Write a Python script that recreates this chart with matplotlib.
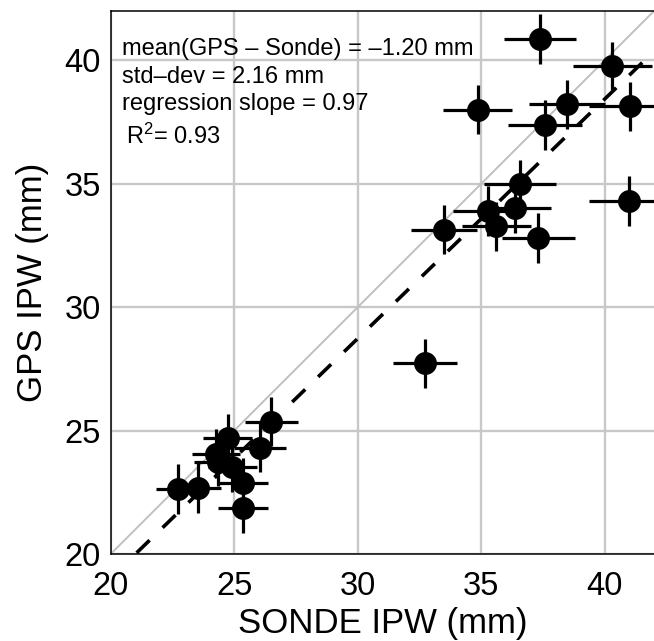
import matplotlib
matplotlib.use("Agg")
import matplotlib.pyplot as plt
import numpy as np

plt.rcParams["font.family"] = ["Liberation Sans", "DejaVu Sans"]
plt.rcParams["mathtext.fontset"] = "custom"
plt.rcParams["mathtext.rm"] = "Liberation Sans"
plt.rcParams["mathtext.it"] = "Liberation Sans:italic"

# radiosonde vs GPS integrated precipitable water (mm)
sonde_ipw = [37.39, 40.31, 34.86, 38.48, 37.59, 41.01, 36.58, 36.39, 35.27, 35.61,
             33.51, 37.32, 40.98, 32.73, 26.51, 26.04, 24.73, 24.26, 24.35, 24.93,
             25.34, 25.34, 22.73, 23.54]
gps_ipw = [40.87, 39.79, 38.00, 38.22, 37.38, 38.14, 34.98, 34.02, 33.90, 33.27,
           33.14, 32.80, 34.31, 27.72, 25.36, 24.31, 24.69, 24.07, 23.74, 23.52,
           22.89, 21.86, 22.63, 22.67]
sonde_err = [1.47, 1.60, 1.39, 1.54, 1.50, 1.64, 1.46, 1.45, 1.41, 1.40,
             1.34, 1.49, 1.63, 1.30, 1.06, 1.04, 0.99, 0.97, 0.97, 1.00,
             1.01, 1.01, 0.91, 0.94]
gps_err = [1.0, 0.97, 0.99, 1.0, 1.0, 1.0, 1.0, 1.0, 1.0, 1.0,
           1.0, 1.0, 1.0, 1.0, 1.0, 1.0, 1.0, 1.0, 1.0, 1.0,
           1.0, 1.0, 1.0, 1.0]

reg_slope = 0.97
reg_intercept = -0.37
stats_lines = ["mean(GPS \u2013 Sonde) = \u20131.20 mm",
               "std\u2013dev = 2.16 mm",
               "regression slope = 0.97"]
r2_text = r"R$^\mathrm{2}$= 0.93"

xlim = (20, 42)
ylim = (20, 42)

fig = plt.figure(figsize=(6.54, 6.41), dpi=100)
ax = fig.add_axes([0.1693, 0.1357, 0.8307, 0.8471])

ax.set_xlim(*xlim)
ax.set_ylim(*ylim)
ax.set_xticks([20, 25, 30, 35, 40])
ax.set_yticks([20, 25, 30, 35, 40])
ax.grid(True, color="#c8c8c8", linewidth=1.7, zorder=0)
ax.set_axisbelow(True)

# 1:1 line
ax.plot(xlim, xlim, color="#c0c0c0", linewidth=1.4, zorder=1)

# regression line
xr = np.array(xlim, dtype=float)
ax.plot(xr, reg_slope * xr + reg_intercept, color="black", linewidth=2.6,
        dashes=(5, 5), zorder=2)

ax.errorbar(sonde_ipw, gps_ipw, xerr=sonde_err, yerr=gps_err, fmt="o",
            color="black", markersize=15.5, elinewidth=2.3, capsize=0, zorder=3)

for s in ["left", "bottom", "top"]:
    ax.spines[s].set_linewidth(1.1)
ax.spines["right"].set_visible(False)

ax.tick_params(length=0, labelsize=23.5)
ax.tick_params(axis="y", pad=7)
ax.tick_params(axis="x", pad=12)

ax.set_xlabel("SONDE IPW (mm)", fontsize=25, labelpad=4)
ax.set_ylabel("GPS IPW (mm)", fontsize=25, labelpad=11)

baselines = [0.919, 0.868, 0.8177]
for txt, yb in zip(stats_lines, baselines):
    ax.text(0.021, yb, txt, transform=ax.transAxes, fontsize=17, va="baseline",
            ha="left", zorder=5)
ax.text(0.029, 0.755, r2_text, transform=ax.transAxes, fontsize=17, va="baseline",
        ha="left", zorder=5)

fig.savefig("out.png", dpi=100)
